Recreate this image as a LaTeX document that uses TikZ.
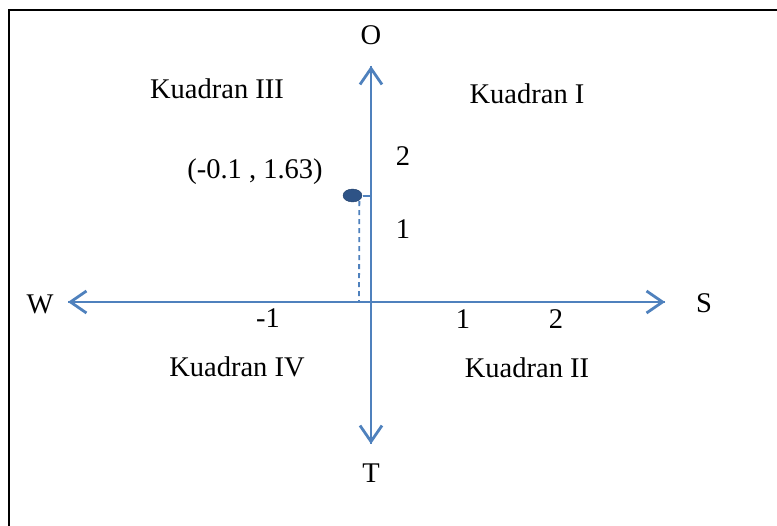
\documentclass[tikz,border=0pt]{standalone}
\usepackage{fontspec}
\setmainfont{Liberation Serif}
\usepackage{xcolor}
\definecolor{colAxis}{HTML}{4F81BD}
\definecolor{colDot}{HTML}{2E5386}
\usetikzlibrary{arrows.meta, positioning, shapes.geometric}
\tikzset{
  axisline/.style={draw=colAxis, line width=2.8pt, -{Straight Barb[length=16pt, width=22pt, line width=2.8pt]}},
  lbl/.style={font=\fontsize{28.5}{31}\selectfont, inner sep=0pt},
}

\begin{document}
\begin{tikzpicture}[x=1pt, y=-1pt]
  \useasboundingbox (0,0) rectangle (777,526);
  \clip (0,0) rectangle (777,526);
  % frame
  \draw[line width=1.8pt] (9,10) rectangle (800,560);
  % axis ends
  \coordinate (west) at (68,302);
  \coordinate (east) at (665,302);
  \coordinate (north) at (371,66);
  \coordinate (south) at (371,444);
  \draw[axisline] (east) -- (west);
  \draw[axisline] (west) -- (east);
  \draw[axisline] (south) -- (north);
  \draw[axisline] (north) -- (south);
  % direction labels
  \node[lbl] (lblO) at (371,35) {O};
  \node[lbl] (lblT) at (371,473) {T};
  \node[lbl] (lblW) at (40,304) {W};
  \node[lbl] (lblS) at (704,303) {S};
  % quadrants
  \node[lbl] (q3) at (217,89) {Kuadran III};
  \node[lbl] (q1) at (527,94) {Kuadran I};
  \node[lbl] (q4) at (237,367) {Kuadran IV};
  \node[lbl] (q2) at (527,368) {Kuadran II};
  % scale numbers
  \node[lbl] (y2) at (403,156) {2};
  \node[lbl] (y1) at (403,229) {1};
  \node[lbl] (xm1) at (268,318) {-1};
  \node[lbl] (x1) at (463,319) {1};
  \node[lbl] (x2) at (556,319) {2};
  % the point
  \node[lbl] (ptlbl) at (255,172) {(-0.1 , 1.63)};
  \node[ellipse, draw=colDot!80!black, fill=colDot, minimum width=19pt, minimum height=13pt, inner sep=0pt] (pt) at (352.5,195.5) {};
  \coordinate (foot) at (359,302);
  \coordinate (tick) at (371,196);
  \draw[colAxis, line width=1.8pt, dash pattern=on 5pt off 4pt] (pt.south east) ++(0,1) -- (foot);
  \draw[colAxis, line width=1.8pt] (tick) -- ++(-8,0);
\end{tikzpicture}
\end{document}
